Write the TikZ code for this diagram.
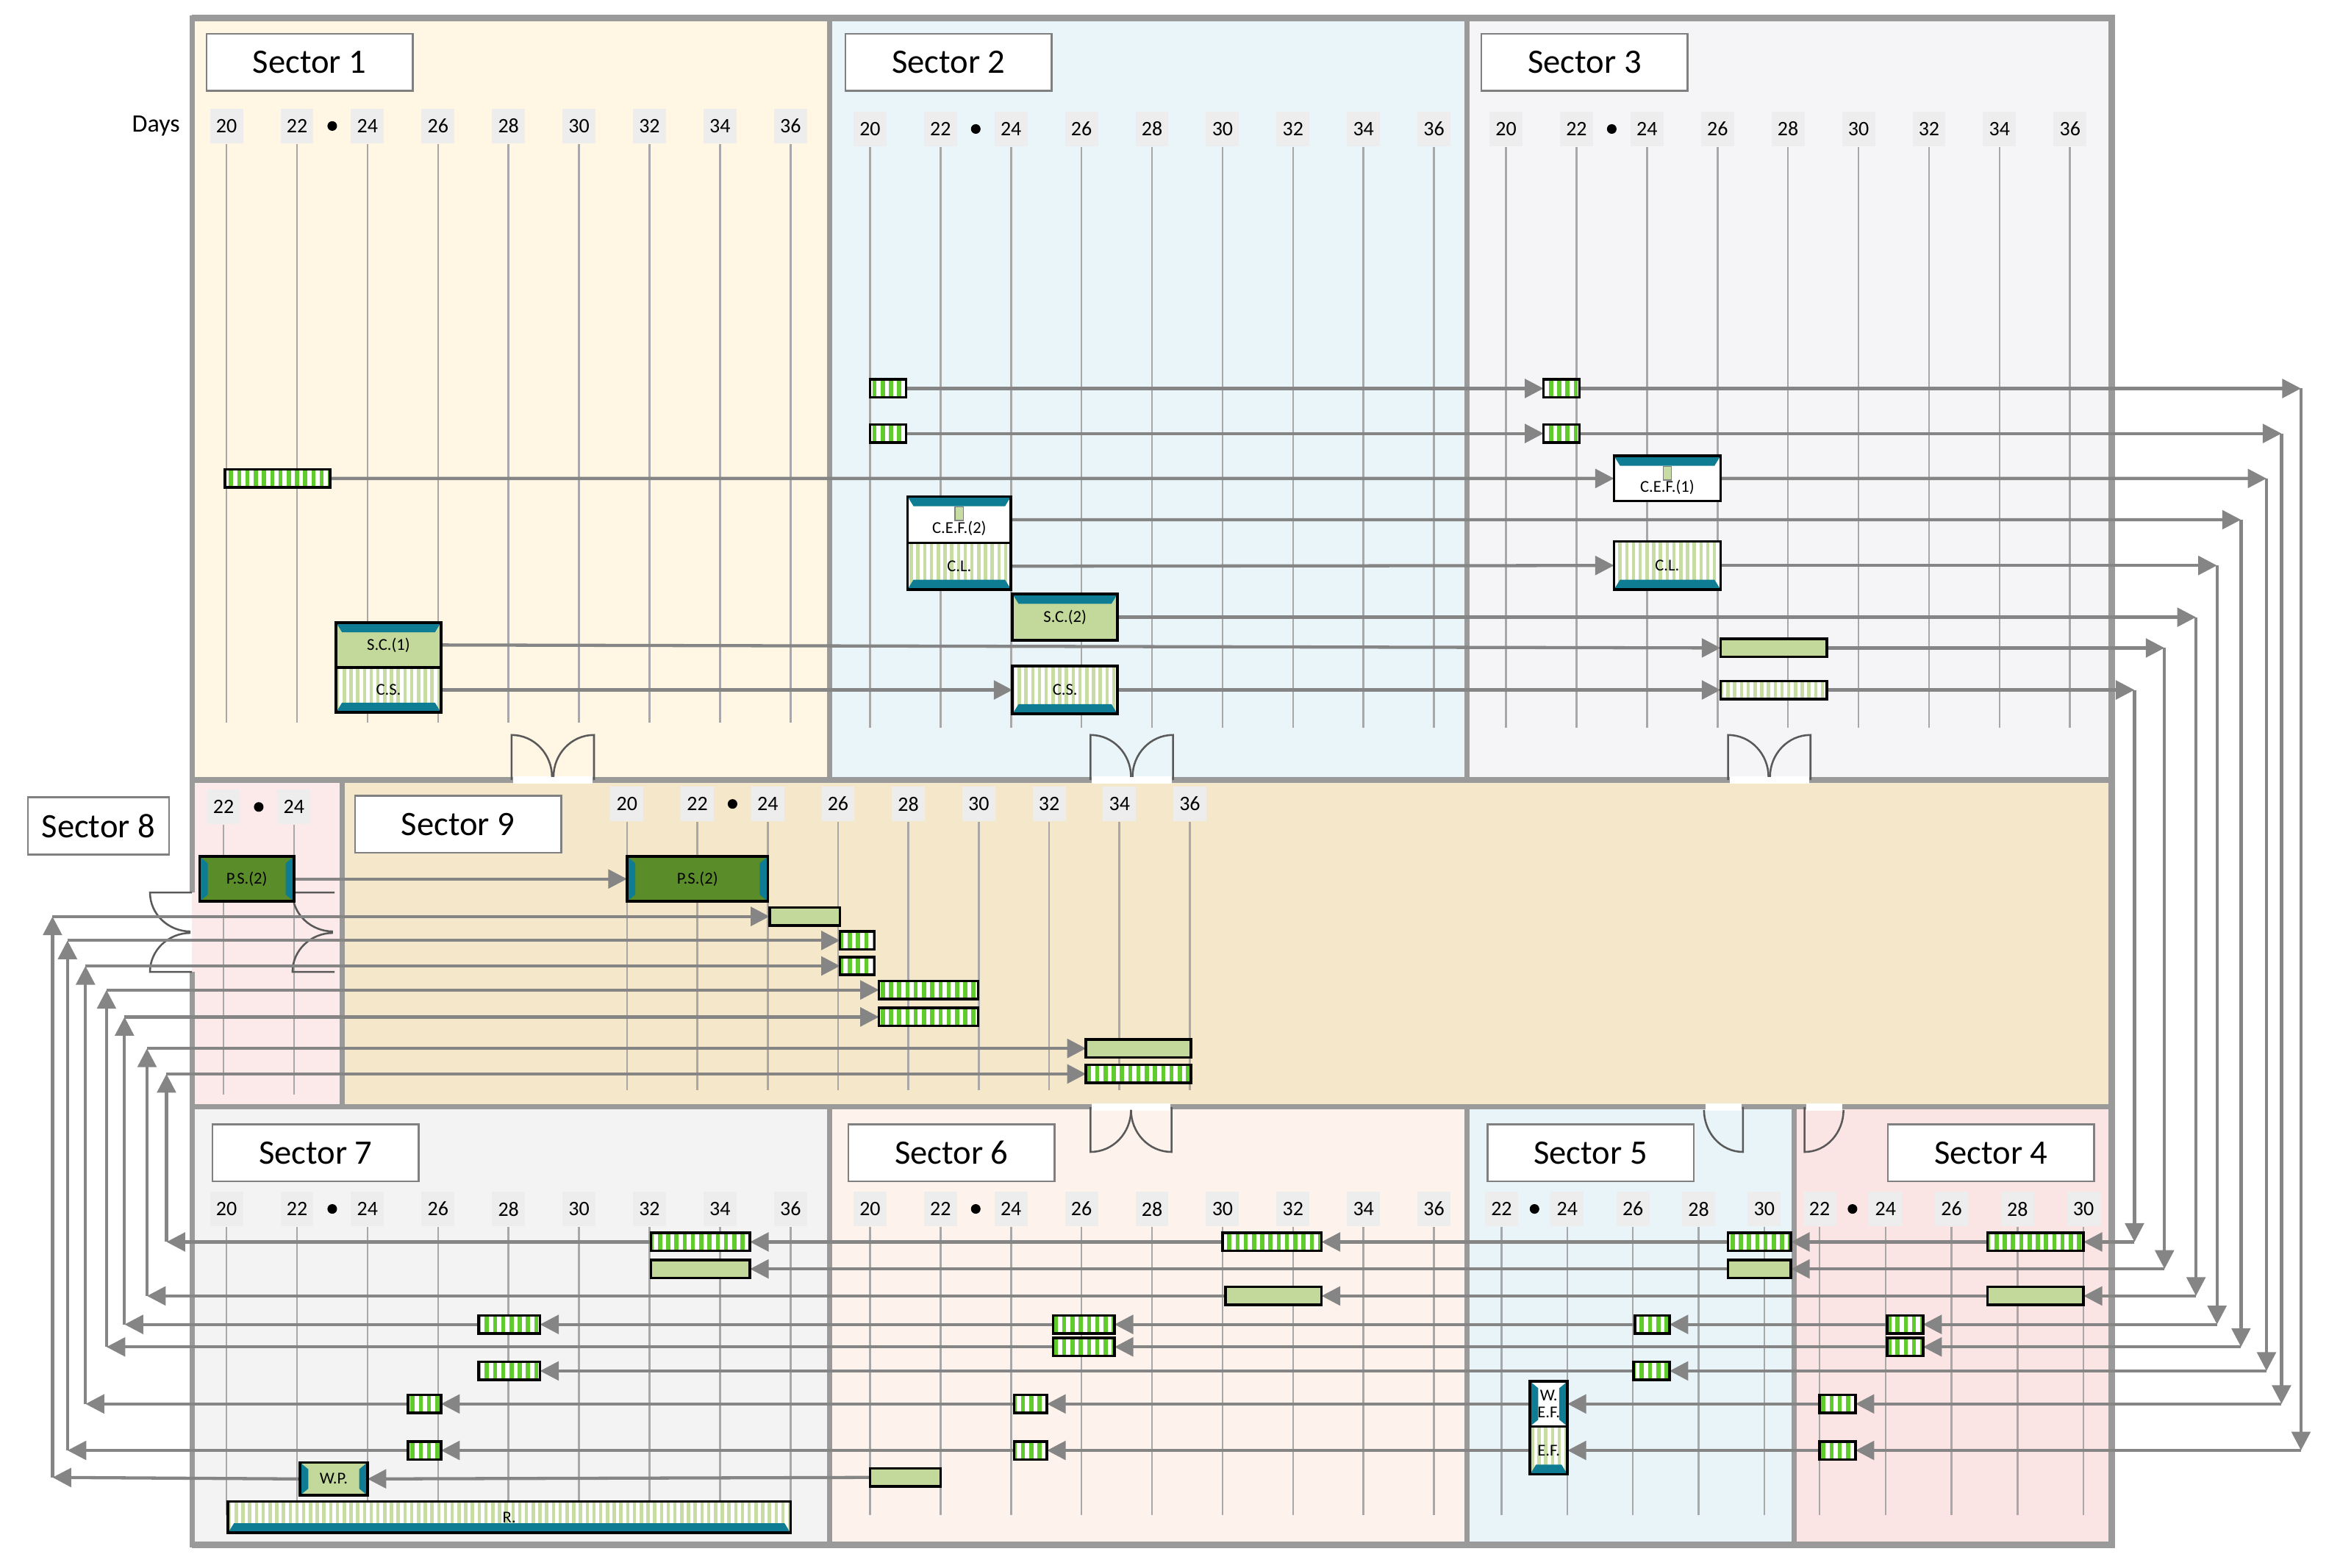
\documentclass[tikz,border=0pt]{standalone}
\usepackage{fontspec}
\setmainfont{Carlito}
\usetikzlibrary{patterns.meta,arrows.meta}
\definecolor{tealc}{HTML}{0E7C93}
\definecolor{dgreen}{HTML}{5B8C2A}
\definecolor{lgreen}{HTML}{C3D89B}
\definecolor{bgreen}{HTML}{5FCC2C}
\definecolor{pgreen}{HTML}{C6DCA2}
\definecolor{arrgray}{HTML}{858585}
\definecolor{wallc}{HTML}{9A9A9A}
\definecolor{gridc}{HTML}{A8A8A8}
\definecolor{f1}{HTML}{FFF6E3}
\definecolor{f2}{HTML}{EAF5F9}
\definecolor{f3}{HTML}{F5F5F7}
\definecolor{f8}{HTML}{FCEAEA}
\definecolor{f9}{HTML}{F5E7C9}
\definecolor{f7}{HTML}{F3F3F3}
\definecolor{f6}{HTML}{FDF2EC}
\definecolor{f5}{HTML}{E8F4F8}
\definecolor{f4}{HTML}{FBE4E4}
\pgfdeclarelayer{bg}\pgfdeclarelayer{arl}
\pgfsetlayers{bg,arl,main}
\tikzset{
 box/.style={draw=black,line width=0.35mm,inner sep=0,outer sep=0,font=\fontsize{6.3}{6.5}\selectfont,align=center},
 bs/.style={box,preaction={fill=white},pattern={Lines[angle=90,distance=1.1mm,line width=0.55mm]},pattern color=bgreen},
 ps/.style={box,preaction={fill=white},pattern={Lines[angle=90,distance=0.9mm,line width=0.45mm]},pattern color=pgreen},
 lg/.style={box,fill=lgreen},
 dg/.style={box,fill=dgreen},
 wt/.style={box,fill=white},
 ttopi/.style={path picture={\fill[tealc] (path picture bounding box.north west) -- (path picture bounding box.north east) -- ([xshift=-0.8mm,yshift=-1.3mm]path picture bounding box.north east) -- ([xshift=0.8mm,yshift=-1.3mm]path picture bounding box.north west) -- cycle;
   \draw[fill=pgreen,draw=gray,line width=0.15mm] ([xshift=-0.55mm,yshift=-1.4mm]path picture bounding box.north) rectangle ([xshift=0.55mm,yshift=-3.2mm]path picture bounding box.north);}},
 ttop/.style={path picture={\fill[tealc] (path picture bounding box.north west) -- (path picture bounding box.north east) -- ([xshift=-0.8mm,yshift=-1.3mm]path picture bounding box.north east) -- ([xshift=0.8mm,yshift=-1.3mm]path picture bounding box.north west) -- cycle;}},
 tbot/.style={path picture={\fill[tealc] (path picture bounding box.south west) -- (path picture bounding box.south east) -- ([xshift=-0.8mm,yshift=1.3mm]path picture bounding box.south east) -- ([xshift=0.8mm,yshift=1.3mm]path picture bounding box.south west) -- cycle;}},
 tsides/.style={path picture={\fill[tealc] (path picture bounding box.north west) -- ([xshift=1.1mm,yshift=-0.9mm]path picture bounding box.north west) -- ([xshift=1.1mm,yshift=0.9mm]path picture bounding box.south west) -- (path picture bounding box.south west) -- cycle;
   \fill[tealc] (path picture bounding box.north east) -- ([xshift=-1.1mm,yshift=-0.9mm]path picture bounding box.north east) -- ([xshift=-1.1mm,yshift=0.9mm]path picture bounding box.south east) -- (path picture bounding box.south east) -- cycle;}},
 arr/.style={draw=arrgray,line width=0.42mm,-{Triangle[length=2.5mm,width=2.5mm]}},
 title/.style={draw=gray,fill=white,line width=0.25mm,minimum width=27.5mm,minimum height=7.6mm,font=\fontsize{13}{14}\selectfont,inner sep=0,anchor=north west},
 day/.style={fill=black!7,inner sep=0.4mm,minimum width=4.4mm,minimum height=4.6mm,font=\fontsize{7.8}{8}\selectfont},
 wall/.style={draw=wallc,line width=0.7mm},
 door/.style={draw=gray!70!black,line width=0.25mm},
 dot/.style={radius=3.2},
}
\newcommand\bx[7]{\node[#2,minimum width={(#5-#3)*0.2mm},minimum height={(#6-#4)*0.2mm},anchor=north west] (#1) at (#3,#4) {#7};}
\newcommand\dcol[4]{\node[day] at (#1,#2) {#4}; \draw[gridc,line width=0.25mm] (#1,#2+12) -- (#1,#3);}
\newcommand\nine[4]{\foreach \i in {0,...,8}{\pgfmathtruncatemacro\lb{20+2*\i}\dcol{#1+\i*#2}{#3}{#4}{\lb}}\fill[dot] (#1+1.5*#2,#3) circle;}
\begin{document}
\begin{tikzpicture}[x=0.2mm,y=-0.2mm]
\useasboundingbox (0,0) rectangle (1560,1045);
\begin{pgfonlayer}{bg}
\fill[f1] (128,12) rectangle (553,520);
\fill[f2] (553,12) rectangle (978,520);
\fill[f3] (978,12) rectangle (1408,520);
\fill[f8] (128,520) rectangle (228,738);
\fill[f9] (228,520) rectangle (1408,738);
\fill[f7] (128,738) rectangle (553,1030);
\fill[f6] (553,738) rectangle (978,1030);
\fill[f5] (978,738) rectangle (1196,1030);
\fill[f4] (1196,738) rectangle (1408,1030);
\node[font=\fontsize{9.5}{10}\selectfont] at (104,84) {Days};
\nine{151}{47}{84}{482}
\nine{580}{47}{86}{485}
\nine{1004}{47}{86}{485}
\nine{418}{46.9}{536}{727}
\nine{151}{47}{806}{1010}
\nine{580}{47}{806}{1010}
\dcol{149}{538}{730}{22}\dcol{196}{538}{730}{24}\fill[dot] (172.5,538) circle;
\foreach \i in {0,...,4}{\pgfmathtruncatemacro\lb{22+2*\i}\dcol{1001+\i*43.8}{806}{1010}{\lb}}\fill[dot] (1023,806) circle;
\foreach \i in {0,...,4}{\pgfmathtruncatemacro\lb{22+2*\i}\dcol{1213+\i*44}{806}{1010}{\lb}}\fill[dot] (1235,806) circle;
\draw[wall] (128,12) rectangle (553,520) (553,12) rectangle (978,520) (978,12) rectangle (1408,520);
\draw[wall] (228,520) rectangle (1408,738);
\draw[wall] (128,520) -- (128,595) (128,648) -- (128,738) (228,520) -- (228,595) (228,648) -- (228,738);
\draw[wall] (128,738) rectangle (553,1030) (553,738) rectangle (978,1030) (978,738) rectangle (1196,1030) (1196,738) rectangle (1408,1030);
\draw[wall,line width=0.9mm] (128,12) -- (1408,12) -- (1408,1030) -- (128,1030);
\foreach \a in {341,727,1152}{
 \draw[white,line width=1mm] (\a+1,520) -- (\a+54,520);
 \draw[door] (\a,520) -- (\a,490) to[out=0,in=90] (\a+27,518);
 \draw[door] (\a+55,520) -- (\a+55,490) to[out=180,in=90] (\a+28,518);}
\draw[white,line width=1mm] (728,738) -- (780,738);
\draw[door] (727,738) -- (727,768) to[out=0,in=-90] (754,740);
\draw[door] (781,738) -- (781,768) to[out=180,in=-90] (754,740);
\draw[white,line width=1mm] (1137,738) -- (1161,738) (1204,738) -- (1228,738);
\draw[door] (1162,738) -- (1162,768) to[out=180,in=-90] (1136,740);
\draw[door] (1203,738) -- (1203,768) to[out=0,in=-90] (1229,740);
\foreach \a in {100,195}{
 \draw[door] (\a+28,595) -- (\a,595) to[out=-90,in=180] (\a+27,621);
 \draw[door] (\a+28,648) -- (\a,648) to[out=90,in=180] (\a+27,622);}
\end{pgfonlayer}
% titles
\node[title] (t1) at (137,22) {Sector 1};
\node[title] (t2) at (563,22) {Sector 2};
\node[title] (t3) at (987,22) {Sector 3};
\node[title,minimum width=18.8mm] (t8) at (18,531) {Sector 8};
\node[title] (t9) at (236,530) {Sector 9};
\node[title] (t7) at (141,749) {Sector 7};
\node[title] (t6) at (565,749) {Sector 6};
\node[title] (t5) at (991,749) {Sector 5};
\node[title] (t4) at (1258,749) {Sector 4};
% boxes top row
\bx{a1}{bs}{150}{313}{220}{325}{}
\bx{sc1}{lg,ttop}{224}{415}{294}{445}{S.C.(1)}
\bx{cs1}{ps,tbot}{224}{445}{294}{475}{C.S.}
\bx{s2a}{bs}{580}{253}{604}{265}{}
\bx{s2b}{bs}{580}{283}{604}{295}{}
\node[wt,ttopi,minimum width=13.8mm,minimum height=6.2mm,anchor=north west,label={[font=\fontsize{6.3}{6.5}\selectfont,yshift=-1.2mm]center:C.E.F.(2)}] (cef2) at (605,331) {};
\bx{cl2}{ps,tbot}{605}{362}{674}{393}{C.L.}
\bx{sc2}{lg,ttop}{675}{396}{745}{427}{S.C.(2)}
\bx{cs2}{ps,tbot}{675}{444}{745}{476}{C.S.}
\bx{s3a}{bs}{1029}{253}{1053}{265}{}
\bx{s3b}{bs}{1029}{283}{1053}{295}{}
\node[wt,ttopi,minimum width=14.2mm,minimum height=6mm,anchor=north west,label={[font=\fontsize{6.3}{6.5}\selectfont,yshift=-1.2mm]center:C.E.F.(1)}] (cef1) at (1076,304) {};
\bx{cl3}{ps,tbot}{1076}{361}{1147}{393}{C.L.}
\bx{g3}{lg}{1147}{426}{1218}{438}{}
\bx{p3}{ps}{1147}{454}{1218}{466}{}
% middle
\bx{ps8}{dg,tsides}{133}{571}{196}{601}{P.S.(2)}
\bx{ps9}{dg,tsides}{418}{571}{512}{601}{P.S.(2)}
\bx{n1}{lg}{513}{605}{560}{617}{}
\bx{n2}{bs}{560}{621}{583}{633}{}
\bx{n3}{bs}{560}{638}{583}{650}{}
\bx{n4}{bs}{586}{654}{652}{666}{}
\bx{n5}{bs}{586}{672}{652}{684}{}
\bx{n6}{lg}{724}{693}{794}{705}{}
\bx{n7}{bs}{724}{710}{794}{722}{}
% bottom
\bx{a4}{bs}{1325}{822}{1389}{834}{}
\bx{c4}{lg}{1325}{858}{1389}{870}{}
\bx{d4}{bs}{1258}{877}{1282}{889}{}
\bx{e4}{bs}{1258}{892}{1282}{904}{}
\bx{g4}{bs}{1213}{930}{1237}{942}{}
\bx{h4}{bs}{1213}{961}{1237}{973}{}
\bx{a5}{bs}{1152}{822}{1194}{834}{}
\bx{b5}{lg}{1152}{840}{1194}{852}{}
\bx{d5}{bs}{1090}{877}{1113}{889}{}
\bx{f5}{bs}{1089}{908}{1113}{920}{}
\bx{g5}{wt,tsides}{1020}{921}{1045}{951}{W.\\E.F.}
\bx{h5}{ps,tbot}{1020}{951}{1045}{983}{E.F.}
\bx{a6}{bs}{815}{822}{881}{834}{}
\bx{c6}{lg}{817}{858}{881}{870}{}
\bx{d6}{bs}{702}{877}{743}{889}{}
\bx{e6}{bs}{702}{892}{743}{904}{}
\bx{g6}{bs}{676}{930}{698}{942}{}
\bx{h6}{bs}{676}{961}{698}{973}{}
\bx{i6}{lg}{580}{979}{627}{991}{}
\bx{a7}{bs}{434}{822}{500}{834}{}
\bx{b7}{lg}{434}{840}{500}{852}{}
\bx{d7}{bs}{319}{877}{360}{889}{}
\bx{f7}{bs}{319}{908}{360}{920}{}
\bx{g7}{bs}{272}{930}{294}{942}{}
\bx{h7}{bs}{272}{961}{294}{973}{}
\bx{wp}{lg,tsides}{200}{975}{245}{997}{W.P.}
\bx{rr}{ps,tbot}{152}{1001}{527}{1022}{R.}
% coordinates
\coordinate (R1) at (1534,259); \coordinate (R1b) at (1534,967);
\coordinate (R2) at (1521,289); \coordinate (R2b) at (1521,936);
\coordinate (R3) at (1511,319); \coordinate (R3b) at (1511,914);
\coordinate (R4) at (1494,346.5); \coordinate (R4b) at (1494,898);
\coordinate (R5) at (1478,377); \coordinate (R5b) at (1478,883);
\coordinate (R6) at (1464,411.5); \coordinate (R6b) at (1464,864);
\coordinate (R7) at (1443,432); \coordinate (R7b) at (1443,846);
\coordinate (R8) at (1423,460); \coordinate (R8b) at (1423,828);
\coordinate (L1) at (111,828); \coordinate (L1t) at (111,716);
\coordinate (L2) at (98,864); \coordinate (L2t) at (98,699);
\coordinate (L3) at (83,883); \coordinate (L3t) at (83,678);
\coordinate (L4) at (71,898); \coordinate (L4t) at (71,660);
\coordinate (L5) at (57,936); \coordinate (L5t) at (57,644);
\coordinate (L6) at (45,967); \coordinate (L6t) at (45,627);
\coordinate (L7) at (35,985); \coordinate (L7t) at (35,611);
\begin{pgfonlayer}{arl}
\draw[arr] (s2a.east) -- (s3a.west); \draw[arr] (s3a.east) -- (R1);
\draw[arr] (s2b.east) -- (s3b.west); \draw[arr] (s3b.east) -- (R2);
\draw[arr] (a1.east) -- (cef1.west); \draw[arr] (cef1.east) -- (R3);
\draw[arr] (cef2.east) -- (R4);
\draw[arr] (cl2.east) -- (cl3.west); \draw[arr] (cl3.east) -- (R5);
\draw[arr] (sc2.east) -- (R6);
\draw[arr] (sc1.east) -- (g3.west); \draw[arr] (g3.east) -- (R7);
\draw[arr] (cs1.east) -- (cs2.west); \draw[arr] (cs2.east) -- (p3.west); \draw[arr] (p3.east) -- (R8);
\foreach \k in {1,...,8}{\draw[arr] (R\k) -- (R\k b);}
\draw[arr] (R8b) -- (a4.east); \draw[arr] (a4.west) -- (a5.east); \draw[arr] (a5.west) -- (a6.east); \draw[arr] (a6.west) -- (a7.east); \draw[arr] (a7.west) -- (L1);
\draw[arr] (R7b) -- (b5.east); \draw[arr] (b5.west) -- (b7.east);
\draw[arr] (R6b) -- (c4.east); \draw[arr] (c4.west) -- (c6.east); \draw[arr] (c6.west) -- (L2);
\draw[arr] (R5b) -- (d4.east); \draw[arr] (d4.west) -- (d5.east); \draw[arr] (d5.west) -- (d6.east); \draw[arr] (d6.west) -- (d7.east); \draw[arr] (d7.west) -- (L3);
\draw[arr] (R4b) -- (e4.east); \draw[arr] (e4.west) -- (e6.east); \draw[arr] (e6.west) -- (L4);
\draw[arr] (R3b) -- (f5.east); \draw[arr] (f5.west) -- (f7.east);
\draw[arr] (R2b) -- (g4.east); \draw[arr] (g4.west) -- (g5.east); \draw[arr] (g5.west) -- (g6.east); \draw[arr] (g6.west) -- (g7.east); \draw[arr] (g7.west) -- (L5);
\draw[arr] (R1b) -- (h4.east); \draw[arr] (h4.west) -- (h5.east); \draw[arr] (h5.west) -- (h6.east); \draw[arr] (h6.west) -- (h7.east); \draw[arr] (h7.west) -- (L6);
\draw[arr] (i6.west) -- (wp.east); \draw[arr] (wp.west) -- (L7);
\foreach \k in {1,...,7}{\draw[arr] (L\k) -- (L\k t);}
\draw[arr] (L1t) -- (n7.west); \draw[arr] (L2t) -- (n6.west); \draw[arr] (L3t) -- (n5.west);
\draw[arr] (L4t) -- (n4.west); \draw[arr] (L5t) -- (n3.west); \draw[arr] (L6t) -- (n2.west); \draw[arr] (L7t) -- (n1.west);
\draw[arr] (ps8.east) -- (ps9.west);
\end{pgfonlayer}
\end{tikzpicture}
\end{document}
